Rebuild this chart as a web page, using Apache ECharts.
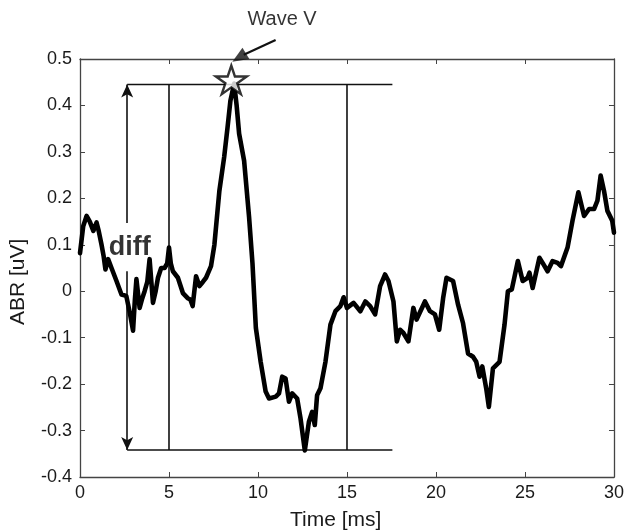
<!DOCTYPE html>
<html>
<head>
<meta charset="utf-8">
<script src="https://cdn.jsdelivr.net/npm/echarts@6/dist/echarts.min.js"></script>
<style>html,body{margin:0;padding:0;background:#fff}#c{width:627px;height:532px}</style>
</head>
<body>
<div id="c"></div>
<script>
// Time axis (ms)
var timeMs = [0.0,0.18,0.37,0.55,0.75,0.93,1.05,1.21,1.33,1.43,1.58,1.77,2.05,2.33,2.6,2.8,2.98,3.08,3.17,3.35,3.5,3.63,3.78,3.91,4.1,4.25,4.38,4.56,4.75,4.9,5.0,5.1,5.22,5.5,5.78,6.05,6.2,6.33,6.52,6.71,6.9,7.08,7.36,7.55,7.83,8.1,8.29,8.45,8.66,8.8,8.94,9.22,9.5,9.69,9.88,10.15,10.43,10.62,11.0,11.18,11.36,11.55,11.74,11.92,12.2,12.39,12.63,12.86,13.04,13.19,13.32,13.51,13.79,14.07,14.35,14.63,14.81,15.0,15.37,15.75,16.03,16.3,16.58,16.86,17.14,17.33,17.61,17.8,17.98,18.17,18.45,18.73,18.91,19.38,19.66,19.94,20.18,20.4,20.59,20.96,21.24,21.52,21.8,22.08,22.26,22.45,22.6,22.82,22.97,23.2,23.57,23.85,24.04,24.26,24.6,24.87,25.15,25.25,25.43,25.81,25.99,26.27,26.55,26.83,27.02,27.39,27.67,28.0,28.32,28.6,28.88,29.07,29.25,29.44,29.63,29.9,30.0];
// ABR amplitude (uV)
var abrUv = [0.082,0.14,0.162,0.15,0.13,0.148,0.13,0.10,0.075,0.047,0.069,0.05,0.022,-0.007,-0.01,-0.047,-0.085,-0.02,0.026,-0.036,-0.015,0.0,0.02,0.069,-0.025,0.0,0.029,0.05,0.05,0.06,0.094,0.06,0.043,0.029,-0.004,-0.015,-0.018,-0.032,0.032,0.011,0.02,0.029,0.054,0.1,0.216,0.289,0.353,0.41,0.447,0.40,0.339,0.281,0.159,0.06,-0.079,-0.152,-0.216,-0.231,-0.227,-0.22,-0.184,-0.188,-0.238,-0.22,-0.231,-0.274,-0.343,-0.281,-0.26,-0.288,-0.224,-0.209,-0.152,-0.072,-0.043,-0.032,-0.013,-0.036,-0.025,-0.043,-0.022,-0.032,-0.05,0.011,0.036,0.022,-0.022,-0.108,-0.083,-0.09,-0.108,-0.036,-0.061,-0.022,-0.043,-0.05,-0.083,-0.015,0.029,0.022,-0.029,-0.069,-0.134,-0.141,-0.152,-0.184,-0.162,-0.209,-0.249,-0.166,-0.152,-0.072,0.0,0.004,0.065,0.022,0.029,0.04,0.007,0.072,0.061,0.043,0.065,0.061,0.054,0.094,0.152,0.213,0.162,0.177,0.177,0.195,0.249,0.216,0.173,0.152,0.126];
var xTicks = [0,5,10,15,20,25,30];
var yTicks = [-0.4,-0.3,-0.2,-0.1,0,0.1,0.2,0.3,0.4,0.5];
// annotation values
var peakLevel = 0.445, troughLevel = -0.342;
var boxStart = 2.65, boxEnd = 17.55;
var windowLines = [5, 15];
var diffGapTop = 0.147, diffGapBottom = 0.043;
var diffLabel = {t: 2.8, v: 0.095, text: 'diff'};
var waveV = {t: 8.5, v: 0.455};
var waveVText = {t: 11.35, v: 0.586, text: 'Wave V'};
var waveVShaft = [[10.99, 0.541], [9.2, 0.509]];
var waveVHead = {t: 8.94, v: 0.503, angle: 122};
var xName = 'Time [ms]', yName = 'ABR [uV]';

var font = 'Liberation Sans, Arial, sans-serif';
var txtBase = {textBorderWidth:0, textBorderColor:'transparent', textShadowBlur:0};
function lbl(text, size, weight){
  return Object.assign({show:true, position:'inside', formatter:text, fontFamily:font, fontSize:size, fontWeight:weight||'normal', color:'#000'}, txtBase);
}
var series = [];
series.push({type:'line', data: timeMs.map(function(t,i){return [t, abrUv[i]];}),
  showSymbol:false, symbol:'none', lineStyle:{color:'#000', width:4.6, join:'round', cap:'round'}, z:5, animation:false});
var thin = {color:'#111', width:1.6};
series.push({type:'line', data:[[boxStart,peakLevel],[boxEnd,peakLevel]], symbol:'none', lineStyle:thin, animation:false, z:3});
series.push({type:'line', data:[[boxStart,troughLevel],[boxEnd,troughLevel]], symbol:'none', lineStyle:thin, animation:false, z:3});
windowLines.forEach(function(x){
  series.push({type:'line', data:[[x,troughLevel],[x,peakLevel]], symbol:'none', lineStyle:thin, animation:false, z:3});
});
series.push({type:'line', data:[], animation:false,
  markLine:{silent:true, animation:false, symbol:['none','arrow'], symbolSize:[9,13],
    label:{show:false}, lineStyle:{color:'#111', width:1.6, type:'solid'},
    data:[
      [{coord:[boxStart,diffGapTop]},{coord:[boxStart,peakLevel]}],
      [{coord:[boxStart,diffGapBottom]},{coord:[boxStart,troughLevel]}]
    ]}
});
// Wave V pointer
series.push({type:'line', data:waveVShaft, symbol:'none', clip:false, lineStyle:{color:'#111', width:2.2}, animation:false, z:8});
series.push({type:'scatter', data:[[waveVHead.t, waveVHead.v]], clip:false, symbol:'triangle', symbolSize:[13,16],
  symbolRotate:waveVHead.angle, itemStyle:{color:'#111'}, animation:false, z:8});
series.push({type:'scatter', data:[[waveV.t, waveV.v]], clip:false,
  symbol:'path://M50,0 L61.2,34.5 L97.6,34.5 L68.2,55.9 L79.4,90.5 L50,69.1 L20.6,90.5 L31.8,55.9 L2.4,34.5 L38.8,34.5 Z',
  symbolSize:[31,30], symbolKeepAspect:true,
  itemStyle:{color:'#fff', borderColor:'#000', borderWidth:2.4}, z:10, animation:false});
series.push({type:'scatter', data:[[diffLabel.t, diffLabel.v]], symbolSize:1, itemStyle:{color:'transparent'}, clip:false, animation:false,
  label:lbl(diffLabel.text, 27, 'bold'), z:6});
series.push({type:'scatter', data:[[waveVText.t, waveVText.v]], symbolSize:1, itemStyle:{color:'transparent'}, clip:false, animation:false,
  label:lbl(waveVText.text, 20), z:6});

var axisLine = {show:true, onZero:false, lineStyle:{color:'#444', width:1.3}};
var tick = {show:true, inside:true, length:5, lineStyle:{color:'#444'}};
var chart = echarts.init(document.getElementById('c'), null, {renderer:'canvas'});
chart.setOption({
  animation:false,
  backgroundColor:'#fff',
  grid:{left:80, right:10, top:59, bottom:55, containLabel:false},
  graphic:[
    {type:'text', left:290, top:510, style:{text:xName, font:'21px ' + font, fill:'#1a1a1a'}},
    {type:'text', x:8, y:325, rotation:Math.PI/2, style:{text:yName, font:'21px ' + font, fill:'#1a1a1a', textAlign:'left', textVerticalAlign:'top'}}
  ],
  xAxis:[
    {type:'value', min:0, max:30, interval:5, position:'bottom',
     axisLine:axisLine, axisTick:tick,
     axisLabel:{fontFamily:font, fontSize:18, color:'#1a1a1a', margin:7, formatter:function(v){return String(v);}},
     splitLine:{show:false}},
    {type:'value', min:0, max:30, interval:5, position:'top',
     axisLine:axisLine, axisTick:tick, axisLabel:{show:false}, splitLine:{show:false}}
  ],
  yAxis:[
    {type:'value', min:-0.4, max:0.5, interval:0.1, position:'left',
     axisLine:axisLine, axisTick:tick,
     axisLabel:{fontFamily:font, fontSize:18, color:'#1a1a1a', margin:8, formatter:function(v){var r=Math.round(v*10)/10; return r===0?'0':r.toFixed(1);}},
     splitLine:{show:false}},
    {type:'value', min:-0.4, max:0.5, interval:0.1, position:'right',
     axisLine:axisLine, axisTick:tick, axisLabel:{show:false}, splitLine:{show:false}}
  ],
  series: series
});
</script>
</body>
</html>
